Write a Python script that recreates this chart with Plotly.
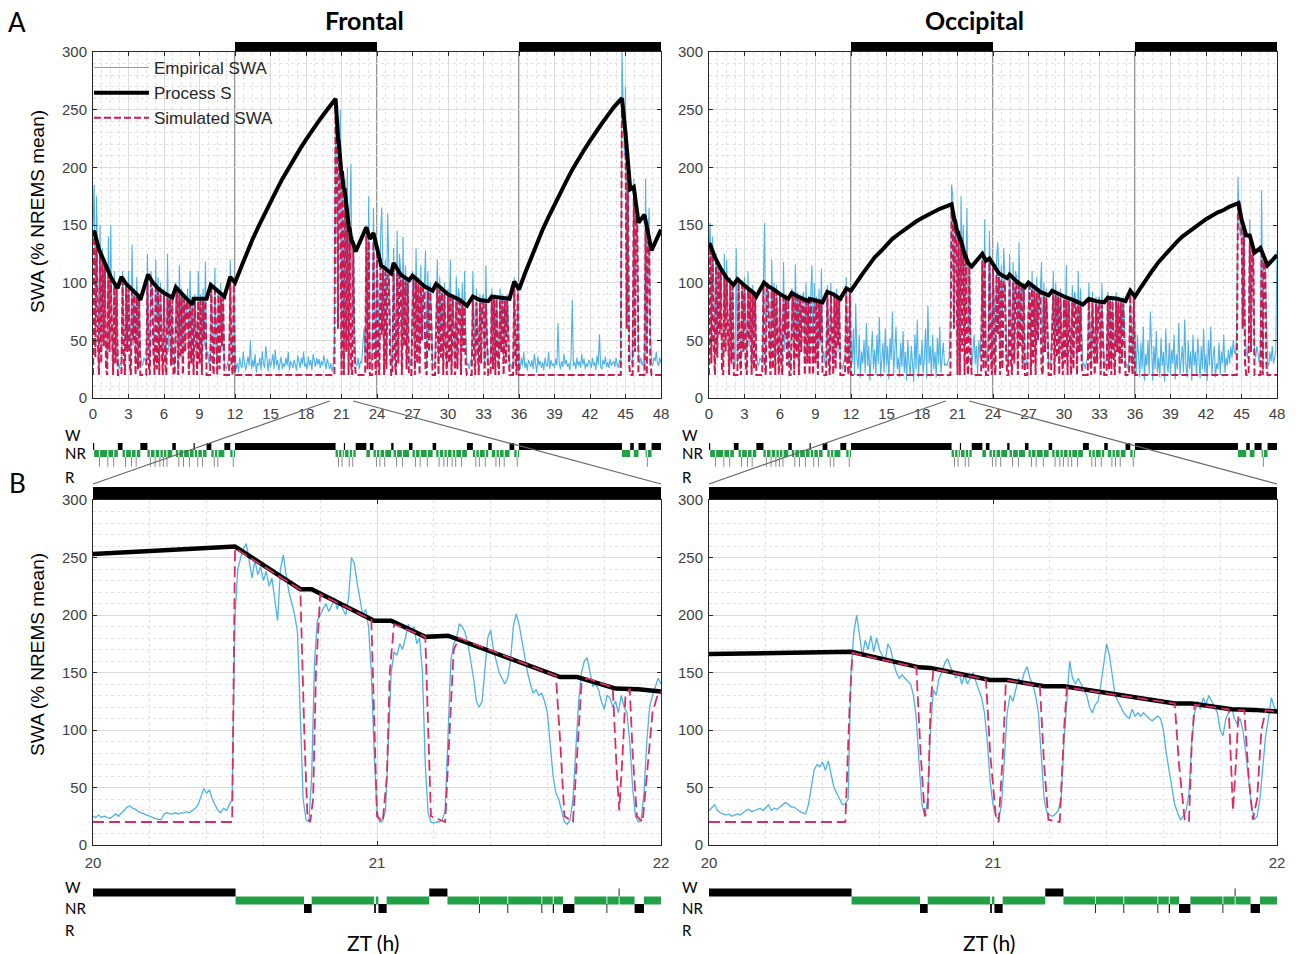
import plotly.graph_objects as go

# ======================= DATA =======================
dark_periods = [(12, 24), (36, 48)]
zoom_window = (20, 22)
x_ticks_A = list(range(0, 49, 3))
x_ticks_B = [20, 21, 22]
y_ticks = [0, 50, 100, 150, 200, 250, 300]

# sample times (0.1 h for panel A, 0.01 h for panel B)
t_A = [round(i * 0.1, 1) for i in range(481)]
t_B = [round(20 + i * 0.01, 2) for i in range(201)]

# hypnogram of panel A, one state per 0.1 h (W wake, N NREM, R REM)
hyp_A = "".join([
    "WNNNNRNNNN", "NNRNNNNRNN", "NWWWWNNRNN", "NNRNNNRNNN", "WWWWWWNNRN", "NNRNNNRNNR",
    "NNRNNNNWWW", "NNRNNNRNNN", "NRNNNWNNRN", "NNRNNNWWWW", "NNRNNRNNNN", "NWWWWWNNRN",
    "WWWWWWWWWW", "WWWWWWWWWW", "WWWWWWWWWW", "WWWWWWWWWW", "WWWWWWWWWW", "WWWWWWWWWW",
    "WWWWWWWWWW", "WWWWWWWWWW", "WWWWWNNRNN", "RNWNNNRNNR", "NNWWWWWWWW", "WNNNWWWNNR",
    "NNRNNNRNNN", "NNWWNNRNNN", "NRNNNNNWWW", "NNRNNNRNNN", "NNRNNNNWWW", "NNRNNNRNNR",
    "NNNRNNRNNN", "NRNNNNWWWW", "WNNRNNRNNN", "NRNNWWWNNN", "RNNRNNNRNN", "NNWWWWNNRN",
    "WWWWWWWWWW", "WWWWWWWWWW", "WWWWWWWWWW", "WWWWWWWWWW", "WWWWWWWWWW", "WWWWWWWWWW",
    "WWWWWWWWWW", "WWWWWWWWWW", "WWWWWWWNNN", "NNNNWWWNNN", "NWWWWWWNRN", "NNWWWWWWWW",
])

# hypnogram of panel B (episodes)
hypB_start = [20.0, 20.502, 20.743, 20.77, 20.99, 20.996, 21.005, 21.034, 21.184, 21.248, 21.359,
              21.362, 21.459, 21.462, 21.579, 21.582, 21.619, 21.623, 21.655, 21.695, 21.808,
              21.811, 21.851, 21.854, 21.907, 21.94]
hypB_end = [20.502, 20.743, 20.77, 20.99, 20.996, 21.005, 21.034, 21.184, 21.248, 21.359, 21.362,
            21.459, 21.462, 21.579, 21.582, 21.619, 21.623, 21.655, 21.695, 21.808, 21.811,
            21.851, 21.854, 21.907, 21.94, 22.0]
hypB_state = ["W", "N", "R", "N", "R", "N", "R", "N", "W", "N", "R",
              "N", "R", "N", "R", "N", "R", "N", "R", "N", "R",
              "N", "W", "N", "R", "N"]

# Process S, frontal
S_fr_t = [0.0, 0.1, 0.5, 1.0, 1.5, 2.07, 2.4, 2.8, 3.3, 3.8, 4.0, 4.65, 5.0, 5.5, 6.0, 6.7, 7.0, 7.5,
          8.0, 8.4, 8.5, 9.0, 9.6, 9.95, 10.3, 10.8, 11.1, 11.6, 12.0, 12.5, 13.0, 13.5, 14.0, 14.5,
          15.0, 15.5, 16.0, 16.5, 17.0, 17.5, 18.0, 18.5, 19.0, 19.5, 20.0, 20.5, 20.73, 20.77, 20.99,
          21.05, 21.17, 21.25, 21.645, 21.705, 21.84, 21.92, 22.0, 22.2, 23.1, 23.4, 23.7, 24.35,
          25.2, 25.4, 26.0, 26.7, 27.0, 28.0, 28.7, 29.0, 30.0, 31.0, 31.6, 32.1, 32.7, 33.4, 33.7,
          34.5, 35.2, 35.6, 36.0, 36.5, 37.0, 37.5, 38.0, 38.5, 39.0, 39.5, 40.0, 40.5, 41.0, 41.5,
          42.0, 42.5, 43.0, 43.5, 44.0, 44.7, 45.0, 45.4, 45.7, 46.1, 46.6, 47.2, 48.0]
S_fr_v = [140, 145, 129, 116, 105, 95, 105, 99, 94, 89, 85, 107, 101, 95, 91, 87, 96, 90,
          85, 81, 86, 86, 86, 98, 95, 90, 88, 105, 100, 113, 126, 138, 149, 160,
          170, 180, 190, 199, 208, 216, 224, 232, 239, 246, 253, 259.5, 222.5, 222.5, 195,
          195, 181, 182, 146, 146, 136, 135.5, 133.5, 127, 148, 138, 143, 115,
          108, 117, 107, 102, 106, 97, 93, 99, 90, 85, 80, 88, 85, 84, 88,
          87, 86, 101, 94, 108, 121, 134, 146, 157, 168, 178, 188, 198, 207, 215,
          223, 231, 238, 245, 252, 260, 230, 181, 183, 152, 159, 128, 146]

# Process S, occipital
S_oc_t = [0.0, 0.1, 0.5, 1.0, 1.5, 2.07, 2.4, 2.8, 3.3, 3.8, 4.0, 4.65, 5.0, 5.5, 6.0, 6.7, 7.0, 7.5,
          8.0, 8.4, 8.5, 9.0, 9.6, 10.0, 10.5, 11.1, 11.6, 12.0, 12.5, 13.0, 13.5, 14.0, 14.5,
          15.0, 15.5, 16.0, 16.5, 17.0, 17.5, 18.0, 18.5, 19.0, 19.5, 20.0, 20.5, 20.74, 20.78, 20.99,
          21.05, 21.18, 21.25, 21.64, 21.70, 21.84, 21.92, 22.0, 22.2, 23.1, 23.4, 23.7, 24.5,
          25.2, 25.4, 26.0, 26.7, 27.0, 28.0, 28.7, 29.0, 30.0, 31.0, 31.6, 32.1, 32.7, 33.4, 33.7,
          34.5, 35.2, 35.6, 36.0, 36.5, 37.0, 37.5, 38.0, 38.5, 39.0, 39.5, 40.0, 40.5, 41.0, 41.5,
          42.0, 42.5, 43.0, 43.5, 44.0, 44.75, 45.0, 45.4, 45.7, 46.1, 46.6, 47.2, 48.0]
S_oc_v = [134, 133, 122, 112, 104, 98, 103, 99, 95, 91, 88, 100, 97, 94, 90, 86, 91, 88,
          86, 84, 86, 85, 83, 92, 90, 86, 95, 93, 101, 108, 115, 122, 127,
          133, 138, 142, 146, 150, 153, 156, 159, 162, 164, 166, 168, 154.5, 154, 143.5,
          143.5, 138, 138, 123, 123, 118, 117.5, 116, 114, 125, 119, 121, 108,
          104, 107, 101, 96, 100, 92, 89, 93, 88, 84, 81, 86, 84, 83, 87,
          86, 84, 93, 88, 96, 104, 111, 118, 124, 130, 135, 140, 144, 148, 152,
          155, 158, 161, 163, 166, 169, 155, 141, 141, 126, 130, 115, 124]

emp_frontal_A = [float(v) for v in """
150 185 60 175 110 30 150 40 130 90
120 45 30 140 70 150 50 30 110 60
100 35 25 30 28 110 60 30 100 50
110 60 30 133 45 95 30 105 55 90
40 30 28 35 32 30 125 55 30 110
95 50 30 120 65 105 35 100 45 30
95 55 30 125 40 90 60 35 30 28
100 90 35 115 50 95 30 90 60 85
95 35 110 55 85 30 90 65 35 110
70 90 30 95 45 118 35 40 30 28
100 60 30 113 40 30 95 55 100 40
90 30 28 25 32 35 120 50 30 100
38 25 30 22 35 28 26 40 30 24
30 36 28 50 25 33 27 38 22 30
28 35 24 40 30 26 45 29 23 34
27 31 38 25 42 28 33 24 30 36
25 30 27 35 28 40 24 32 29 26
33 28 24 37 30 26 35 29 40 27
30 25 36 28 33 24 38 31 27 35
29 34 26 32 28 37 30 25 34 28
25 30 23 28 45 245 230 60 200 250
30 175 20 190 120 200 45 160 203 50
140 60 30 28 35 25 32 30 45 60
35 150 60 175 30 28 40 165 80 35
130 90 30 140 165 110 40 120 70 160
115 60 30 28 130 80 35 145 60 125
110 40 140 60 115 90 105 30 28 35
110 80 30 130 60 105 35 115 50 100
95 128 30 110 55 100 75 30 28 32
90 120 30 105 60 95 35 100 45 30
95 60 120 30 90 55 30 105 75 95
85 30 100 55 110 60 28 30 25 32
35 110 65 30 95 50 30 90 60 88
90 30 115 55 30 28 35 95 60 90
30 88 50 30 95 60 90 30 85 55
90 70 28 30 25 32 105 50 30 100
30 25 35 28 40 26 31 24 33 29
27 33 25 38 30 22 36 28 32 26
31 24 35 29 27 40 25 33 28 30
26 34 28 65 30 25 32 27 38 29
33 27 30 24 36 85 28 31 25 35
28 32 26 38 29 34 25 30 27 33
30 26 35 28 31 24 37 29 55 27
25 33 29 36 27 31 26 34 28 30
32 27 35 29 26 33 28 300 250 210
270 120 200 60 35 30 28 190 90 165
150 40 30 35 28 32 30 190 40 140
165 60 30 28 35 32 40 30 28 35
30
""".split()]

sim_frontal_A = [float(v) for v in """
20 140 35 136 55 20 124 30 119 45
114 25 20 107 40 103 60 20 97 30
94 20 20 20 20 101 35 20 97 40
95 30 20 92 50 90 20 88 25 85
20 20 20 20 20 20 103 30 20 100
99 40 20 95 25 93 20 91 45 20
89 30 20 87 55 86 28 85 20 20
60 92 20 90 35 88 20 86 40 84
83 20 81 30 79 20 84 45 20 84
30 84 20 84 50 84 20 20 20 20
95 35 20 93 60 20 90 25 88 45
87 20 20 20 20 20 103 30 20 99
20 20 20 20 20 20 20 20 20 20
20 20 20 20 20 20 20 20 20 20
20 20 20 20 20 20 20 20 20 20
20 20 20 20 20 20 20 20 20 20
20 20 20 20 20 20 20 20 20 20
20 20 20 20 20 20 20 20 20 20
20 20 20 20 20 20 20 20 20 20
20 20 20 20 20 20 20 20 20 20
20 20 20 20 20 258 243 60 218 206
20 190 20 176 40 160 20 146 30 20
131 35 20 20 20 20 20 20 20 20
20 141 25 136 20 20 20 136 40 20
125 30 20 114 55 111 20 109 25 107
106 40 20 20 113 35 20 109 30 107
105 20 103 45 101 25 100 20 20 20
70 103 20 101 30 99 20 97 50 96
95 25 20 93 40 92 60 20 20 20
60 96 20 94 35 92 20 90 45 20
88 30 87 20 86 50 20 84 25 83
83 20 81 40 79 28 20 20 20 20
20 85 35 20 83 45 20 83 30 82
82 20 82 50 20 20 20 86 25 86
20 86 35 20 85 40 85 20 84 30
84 50 20 20 20 20 99 35 20 96
20 20 20 20 20 20 20 20 20 20
20 20 20 20 20 20 20 20 20 20
20 20 20 20 20 20 20 20 20 20
20 20 20 20 20 20 20 20 20 20
20 20 20 20 20 20 20 20 20 20
20 20 20 20 20 20 20 20 20 20
20 20 20 20 20 20 20 20 20 20
20 20 20 20 20 20 20 20 20 20
20 20 20 20 20 20 20 258 250 240
223 60 202 30 20 20 20 174 40 158
150 20 20 20 20 20 20 147 20 136
131 30 20 20 20 20 20 20 20 20
20
""".split()]

emp_occipital_A = [float(v) for v in """
125 152 60 140 100 35 125 45 120 90
110 45 30 125 70 120 50 30 105 60
100 35 25 130 28 105 60 30 100 50
105 60 30 110 45 95 30 98 55 90
40 30 28 35 32 30 100 152 30 100
95 50 30 120 65 100 35 98 45 30
92 55 30 118 40 90 60 35 30 28
95 90 35 116 50 92 30 90 60 88
92 35 100 55 85 30 90 115 35 100
70 88 30 95 45 112 35 40 30 28
98 60 30 100 40 30 92 55 95 40
88 30 28 25 32 35 105 50 30 95
45 30 60 20 82 35 25 55 18 40
30 50 22 65 28 45 15 38 58 25
42 20 55 30 70 18 35 48 22 60
28 45 16 52 33 75 20 40 62 25
35 18 48 27 58 22 40 15 50 30
20 45 32 14 55 25 68 18 38 28
50 22 35 60 17 80 30 45 20 55
25 40 18 52 30 62 22 35 48 28
30 28 33 35 70 185 175 60 155 145
40 140 28 175 110 150 45 130 165 50
120 60 25 40 55 30 45 20 50 35
60 125 50 155 35 28 50 145 80 35
115 90 30 120 135 110 40 115 70 130
105 60 30 28 125 80 35 118 60 110
105 40 135 60 100 90 100 30 28 35
100 80 30 110 60 98 35 105 50 95
92 118 30 100 55 95 75 30 28 32
88 110 30 100 60 92 35 95 45 30
90 60 115 30 88 55 30 98 75 92
85 30 110 55 95 60 28 30 25 32
35 100 65 30 92 50 30 88 60 86
88 30 100 55 30 28 35 92 60 88
30 86 50 30 92 60 88 30 85 55
88 70 28 30 25 32 95 50 30 92
40 20 55 30 18 48 25 62 15 38
28 50 20 75 33 15 45 25 58 22
35 18 52 28 40 14 60 30 22 48
20 42 30 55 16 38 25 65 20 35
45 22 68 30 18 50 25 40 15 55
28 40 20 52 33 17 45 25 60 22
38 15 50 28 62 20 35 45 18 30
25 48 20 40 30 55 22 35 28 42
30 45 35 50 40 38 60 192 150 140
160 90 145 60 40 35 50 155 70 130
125 40 35 45 38 30 40 180 40 125
120 60 30 28 40 32 45 30 35 40
128
""".split()]

sim_occipital_A = [float(v) for v in """
20 132 30 126 50 20 119 35 115 55
111 25 20 106 40 103 60 20 99 30
97 20 20 20 20 101 35 20 98 40
96 30 20 94 50 92 20 91 25 89
20 20 20 20 20 20 98 30 20 96
96 40 20 94 25 93 20 92 45 20
89 30 20 87 55 86 28 85 20 20
60 89 20 88 35 87 20 86 40 85
85 20 84 30 83 20 85 45 20 85
30 84 20 84 50 84 20 20 20 20
91 35 20 90 60 20 88 25 87 45
86 20 20 20 20 20 94 30 20 92
20 20 20 20 20 20 20 20 20 20
20 20 20 20 20 20 20 20 20 20
20 20 20 20 20 20 20 20 20 20
20 20 20 20 20 20 20 20 20 20
20 20 20 20 20 20 20 20 20 20
20 20 20 20 20 20 20 20 20 20
20 20 20 20 20 20 20 20 20 20
20 20 20 20 20 20 20 20 20 20
20 20 20 20 20 166 161 60 153 149
20 142 20 137 40 133 20 127 30 20
115 35 20 20 20 20 20 20 20 20
20 119 25 120 20 20 20 118 40 20
113 30 20 107 55 105 20 103 25 101
100 40 20 20 104 35 20 101 30 99
99 20 98 45 96 25 95 20 20 20
70 97 20 95 30 93 20 91 50 90
90 25 20 88 40 87 60 20 20 20
60 90 20 89 35 88 20 87 45 20
86 30 85 20 84 50 20 83 25 82
82 20 81 40 80 28 20 20 20 20
20 84 35 20 83 45 20 82 30 82
82 20 81 50 20 20 20 85 25 85
20 84 35 20 84 40 83 20 83 30
82 50 20 20 20 20 90 35 20 87
20 20 20 20 20 20 20 20 20 20
20 20 20 20 20 20 20 20 20 20
20 20 20 20 20 20 20 20 20 20
20 20 20 20 20 20 20 20 20 20
20 20 20 20 20 20 20 20 20 20
20 20 20 20 20 20 20 20 20 20
20 20 20 20 20 20 20 20 20 20
20 20 20 20 20 20 20 20 20 20
20 20 20 20 20 20 20 168 163 157
153 60 146 30 20 20 20 135 40 128
124 20 20 20 20 20 20 125 20 119
116 30 20 20 20 20 20 20 20 20
20
""".split()]

emp_frontal_B = [float(v) for v in """
25 24 26 24 25 24 23 25 27 25
28 30 33 34 32 31 29 28 27 26
25 24 23 22 22 27 28 27 27 28
27 28 28 29 28 30 32 35 42 49
45 48 40 35 30 28 32 30 35 40
200 240 250 258 262 245 232 248 235 242
230 238 225 232 215 195 240 252 235 220
210 200 185 120 40 22 20 60 160 195
200 205 210 203 208 215 205 212 205 200
215 250 245 228 215 200 205 190 150 80
30 20 21 30 90 150 168 165 175 170
180 192 185 190 175 180 150 70 28 20
19 20 20 22 30 90 160 175 180 192
190 185 175 160 145 125 120 125 150 180
187 170 160 150 145 140 145 160 190 201
192 178 165 150 140 132 135 130 132 125
115 90 60 45 40 30 20 18 22 40
80 125 150 160 163 150 138 140 135 125
118 130 128 120 125 115 130 120 115 90
50 25 20 22 45 90 120 130 138 145
140
""".split()]

emp_occipital_B = [float(v) for v in """
30 33 35 30 28 27 26 27 25 26
27 26 28 30 31 29 30 31 32 30
33 35 30 32 31 33 35 37 35 33
33 31 29 28 27 35 50 65 70 68
72 65 73 60 50 45 40 35 36 40
150 185 200 180 165 178 170 182 168 180
170 165 160 175 170 158 150 145 148 145
142 140 130 110 70 35 25 40 100 135
130 145 150 158 162 155 150 145 150 140
148 140 145 150 142 135 128 115 90 55
35 25 22 35 80 115 130 125 135 145
140 150 155 145 140 130 115 80 40 28
26 25 27 30 40 90 130 160 145 140
145 140 135 130 120 115 122 125 140 160
175 165 145 130 125 120 115 112 110 118
112 115 112 115 112 110 108 110 112 110
100 80 65 50 35 28 22 25 30 45
90 115 125 118 128 122 130 125 120 115
100 95 110 115 120 110 105 110 100 80
55 35 22 25 40 70 95 110 128 120
115
""".split()]

# simulated SWA in panel B (breakpoints)
sim_fr_B_t = [20.0, 20.49, 20.5, 20.73, 20.745, 20.755, 20.765, 20.775, 20.785, 20.80, 20.98, 20.99,
              21.0, 21.02, 21.035, 21.045, 21.06, 21.17, 21.18, 21.19, 21.24, 21.255, 21.27, 21.29,
              21.63, 21.645, 21.66, 21.69, 21.70, 21.72, 21.74, 21.83, 21.845, 21.853, 21.865, 21.875,
              21.89, 21.90, 21.915, 21.935, 21.95, 21.97, 21.99, 22.0]
sim_fr_B_v = [20, 20, 258, 222, 90, 25, 20, 40, 150, 218, 196, 120,
              25, 20, 60, 150, 192, 181, 110, 25, 20, 90, 170, 180,
              147, 90, 25, 20, 60, 140, 145, 137, 60, 30, 80, 130,
              136, 80, 25, 20, 60, 115, 132, 133]
sim_oc_B_t = [20.0, 20.48, 20.495, 20.505, 20.73, 20.745, 20.76, 20.77, 20.78, 20.79, 20.975, 20.99,
              21.01, 21.02, 21.035, 21.045, 21.05, 21.165, 21.18, 21.195, 21.235, 21.25, 21.26, 21.64,
              21.655, 21.675, 21.69, 21.70, 21.71, 21.83, 21.84, 21.845, 21.855, 21.865, 21.885, 21.90,
              21.915, 21.93, 21.945, 21.96, 22.0]
sim_oc_B_v = [20, 20, 120, 167, 154.5, 80, 25, 30, 120, 153, 144, 80,
              25, 20, 80, 140, 143.5, 138, 70, 22, 20, 100, 137, 123,
              70, 22, 20, 90, 122, 118, 60, 30, 70, 117, 117, 60,
              22, 40, 100, 117, 116]

assert len(emp_frontal_A) == 481 and len(sim_frontal_A) == 481
assert len(emp_occipital_A) == 481 and len(sim_occipital_A) == 481
assert len(emp_frontal_B) == 201 and len(emp_occipital_B) == 201
assert len(hyp_A) == 480

# ======================= LAYOUT HELPERS =======================
W, H = 1296, 954
def px(xp): return xp / W
def py(yp): return 1 - yp / H

XL = [px(93), px(661)]
XR = [px(709), px(1277)]
YA = [py(398), py(52)]
YB = [py(845), py(500)]
YHA = [py(472), py(436)]
YHB = [py(918), py(882)]

BLUE = "#4DB2E8"
RED = "#CC1A50"
RED_B = "#DA2E62"
GREEN = "#22A045"
AXC = "#262626"
TICKC = "#404040"
TICKFONT = dict(family="Liberation Sans, Arial, sans-serif", size=15, color=TICKC)

fig = go.Figure()

def line_trace(x, y, xa, ya, color, width, dash=None, name=None, show=False, rank=None):
    return go.Scatter(x=x, y=y, xaxis=xa, yaxis=ya, mode="lines",
                      line=dict(color=color, width=width, dash=dash),
                      name=name, showlegend=show, legendrank=rank if rank else 1000,
                      hoverinfo="skip")

# ---- panel A
fig.add_trace(line_trace(t_A, emp_frontal_A, "x", "y", BLUE, 1.1, name="Empirical SWA", show=True, rank=1))
fig.add_trace(line_trace(t_A, sim_frontal_A, "x", "y", RED, 2.0, dash="7px,3px", name="Simulated SWA", show=True, rank=3))
fig.add_trace(line_trace(S_fr_t, S_fr_v, "x", "y", "black", 4, name="Process S", show=True, rank=2))

fig.add_trace(line_trace(t_A, emp_occipital_A, "x2", "y2", BLUE, 1.1))
fig.add_trace(line_trace(t_A, sim_occipital_A, "x2", "y2", RED, 2.0, dash="7px,3px"))
fig.add_trace(line_trace(S_oc_t, S_oc_v, "x2", "y2", "black", 4))

# ---- panel B
fig.add_trace(line_trace(t_B, emp_frontal_B, "x3", "y3", BLUE, 1.3))
fig.add_trace(line_trace(S_fr_t, S_fr_v, "x3", "y3", "black", 4.5))
fig.add_trace(line_trace(sim_fr_B_t, sim_fr_B_v, "x3", "y3", RED_B, 1.8, dash="11px,5px"))

fig.add_trace(line_trace(t_B, emp_occipital_B, "x4", "y4", BLUE, 1.3))
fig.add_trace(line_trace(S_oc_t, S_oc_v, "x4", "y4", "black", 4.5))
fig.add_trace(line_trace(sim_oc_B_t, sim_oc_B_v, "x4", "y4", RED_B, 1.8, dash="11px,5px"))

# ---- hypnograms
LEVEL = {"W": 3, "N": 2, "R": 1}

def runs(states, dt, t0):
    segs, start = [], 0
    for i in range(1, len(states) + 1):
        if i == len(states) or states[i] != states[start]:
            segs.append((t0 + start * dt, t0 + i * dt, states[start]))
            start = i
    return segs

def hyp_A_traces(xa, ya):
    segs = runs(hyp_A, 0.1, 0.0)
    out = []
    for st, col, w in (("W", "black", 7), ("N", GREEN, 7)):
        xs, ys = [], []
        for a, b, s in segs:
            if s == st:
                xs += [a, b, None]
                ys += [LEVEL[s], LEVEL[s], None]
        out.append(line_trace(xs, ys, xa, ya, col, w))
    xs, ys = [], []
    for i, s in enumerate(hyp_A):
        if s == "R":
            tc = t_A[i] + 0.05
            xs += [tc, tc, None]
            ys += [1.5, 0.1, None]
    out.append(line_trace(xs, ys, xa, ya, "#8a8a8a", 1))
    return out

def hyp_B_traces(xa, ya):
    out = []
    for st, col, w in (("W", "black", 8), ("N", GREEN, 8), ("R", "black", 9)):
        xs, ys = [], []
        for a, b, s in zip(hypB_start, hypB_end, hypB_state):
            if s == st:
                xs += [a, b, None]
                ys += [LEVEL[s], LEVEL[s], None]
        out.append(line_trace(xs, ys, xa, ya, col, w))
    return out

for tr in hyp_A_traces("x5", "y5") + hyp_A_traces("x6", "y6") + hyp_B_traces("x7", "y7") + hyp_B_traces("x8", "y8"):
    fig.add_trace(tr)

# ---- axes
def main_axes(domain_x, domain_y, xr, xticks, xminor, anchor_x, anchor_y, standoff):
    xa = dict(domain=domain_x, range=xr, anchor=anchor_y, tickvals=xticks, ticks="inside", ticklen=4,
              tickcolor=AXC, showline=True, linecolor=AXC, linewidth=1, mirror="ticks",
              showgrid=True, gridcolor="#DCDCDC", gridwidth=1, zeroline=False, tickfont=TICKFONT,
              ticklabelstandoff=standoff,
              minor=dict(dtick=xminor, showgrid=True, gridcolor="#E2E2E2", griddash="dot", ticks=""))
    ya = dict(domain=domain_y, range=[0, 300], anchor=anchor_x, tickvals=y_ticks, ticks="inside", ticklen=4,
              tickcolor=AXC, showline=True, linecolor=AXC, linewidth=1, mirror="ticks",
              showgrid=True, gridcolor="#DCDCDC", gridwidth=1, zeroline=False, tickfont=TICKFONT,
              ticklabelstandoff=2,
              minor=dict(dtick=10, showgrid=True, gridcolor="#E2E2E2", griddash="dot", ticks=""))
    return xa, ya

def hidden(domain, rng, anchor):
    return dict(domain=domain, range=rng, anchor=anchor, visible=False, showgrid=False, zeroline=False)

layout = {}
layout["xaxis"], layout["yaxis"] = main_axes(XL, YA, [0, 48], x_ticks_A, 0.75, "x", "y", 2)
layout["xaxis2"], layout["yaxis2"] = main_axes(XR, YA, [0, 48], x_ticks_A, 0.75, "x2", "y2", 2)
layout["xaxis3"], layout["yaxis3"] = main_axes(XL, YB, list(zoom_window), x_ticks_B, 0.2, "x3", "y3", 4)
layout["xaxis4"], layout["yaxis4"] = main_axes(XR, YB, list(zoom_window), x_ticks_B, 0.2, "x4", "y4", 4)
layout["xaxis5"], layout["yaxis5"] = hidden(XL, [0, 48], "y5"), hidden(YHA, [-0.64, 4.5], "x5")
layout["xaxis6"], layout["yaxis6"] = hidden(XR, [0, 48], "y6"), hidden(YHA, [-0.64, 4.5], "x6")
layout["xaxis7"], layout["yaxis7"] = hidden(XL, list(zoom_window), "y7"), hidden(YHB, [-0.1875, 4.3125], "x7")
layout["xaxis8"], layout["yaxis8"] = hidden(XR, list(zoom_window), "y8"), hidden(YHB, [-0.1875, 4.3125], "x8")
fig.update_layout(**layout)

# ---- shapes: dark-period bars, light/dark boundaries, zoom connectors
shapes = []
for xa_ref, yd, rng, top in (("x", YA, (0, 48), (py(51), py(42))), ("x2", YA, (0, 48), (py(51), py(42))),
                             ("x3", YB, zoom_window, (py(499), py(487))), ("x4", YB, zoom_window, (py(499), py(487)))):
    for a, b in dark_periods:
        a2, b2 = max(a, rng[0]), min(b, rng[1])
        if b2 > a2:
            shapes.append(dict(type="rect", xref=xa_ref, yref="paper", x0=a2, x1=b2, y0=top[0], y1=top[1],
                               fillcolor="black", line=dict(width=0), layer="above"))
for xa_ref, ya_ref in (("x", "y"), ("x2", "y2")):
    for a, b in dark_periods:
        for edge in (a, b):
            if 0 < edge < 48:
                shapes.append(dict(type="line", xref=xa_ref, yref=ya_ref + " domain", x0=edge, x1=edge,
                                   y0=0, y1=1, line=dict(color="#707070", width=1.5), layer="below"))
for dom in (XL, XR):
    wdt = dom[1] - dom[0]
    xa_ = dom[0] + zoom_window[0] / 48 * wdt
    xb_ = dom[0] + zoom_window[1] / 48 * wdt
    shapes.append(dict(type="line", xref="paper", yref="paper", x0=xa_, y0=py(401), x1=dom[0], y1=py(484),
                       line=dict(color="#666666", width=1.2)))
    shapes.append(dict(type="line", xref="paper", yref="paper", x0=xb_, y0=py(401), x1=dom[1], y1=py(484),
                       line=dict(color="#666666", width=1.2)))
fig.update_layout(shapes=shapes)

# ---- annotations
ann = []
def text(x, y, s, size, family="Lato, sans-serif", color="black", xanchor="center", angle=0, bold=False):
    ann.append(dict(x=px(x), y=py(y), xref="paper", yref="paper", text=("<b>%s</b>" % s) if bold else s,
                    showarrow=False, xanchor=xanchor, yanchor="middle", textangle=angle,
                    font=dict(family=family, size=size, color=color)))

text(17, 22, "A", 26)
text(17, 483, "B", 26)
text(365, 20, "Frontal", 25, bold=True)
text(975, 20, "Occipital", 25, bold=True)
for x0 in (63, 680):
    text(x0, 435, "W", 15, xanchor="left")
    text(x0, 453, "NR", 15, xanchor="left")
    text(x0, 477, "R", 15, xanchor="left")
    text(x0, 887, "W", 15, xanchor="left")
    text(x0, 908, "NR", 15, xanchor="left")
    text(x0, 930, "R", 15, xanchor="left")
text(373, 942, "ZT (h)", 21)
text(989, 942, "ZT (h)", 21)
text(37, 212, "SWA (% NREMS mean)", 19, family="Liberation Sans, Arial, sans-serif", angle=-90)
text(37, 655, "SWA (% NREMS mean)", 19, family="Liberation Sans, Arial, sans-serif", angle=-90)
fig.update_layout(annotations=ann)

fig.update_layout(
    width=W, height=H, margin=dict(l=0, r=0, t=0, b=0, autoexpand=False),
    paper_bgcolor="white", plot_bgcolor="white",
    legend=dict(x=px(89), y=py(50), xanchor="left", yanchor="top", bgcolor="rgba(255,255,255,0)",
                font=dict(family="Liberation Sans, Arial, sans-serif", size=17, color="#262626"),
                itemwidth=55, tracegroupgap=0),
)

fig.write_html("out.html", config={"displayModeBar": False},
               post_script="document.body.style.margin='0';document.body.style.padding='0';")
